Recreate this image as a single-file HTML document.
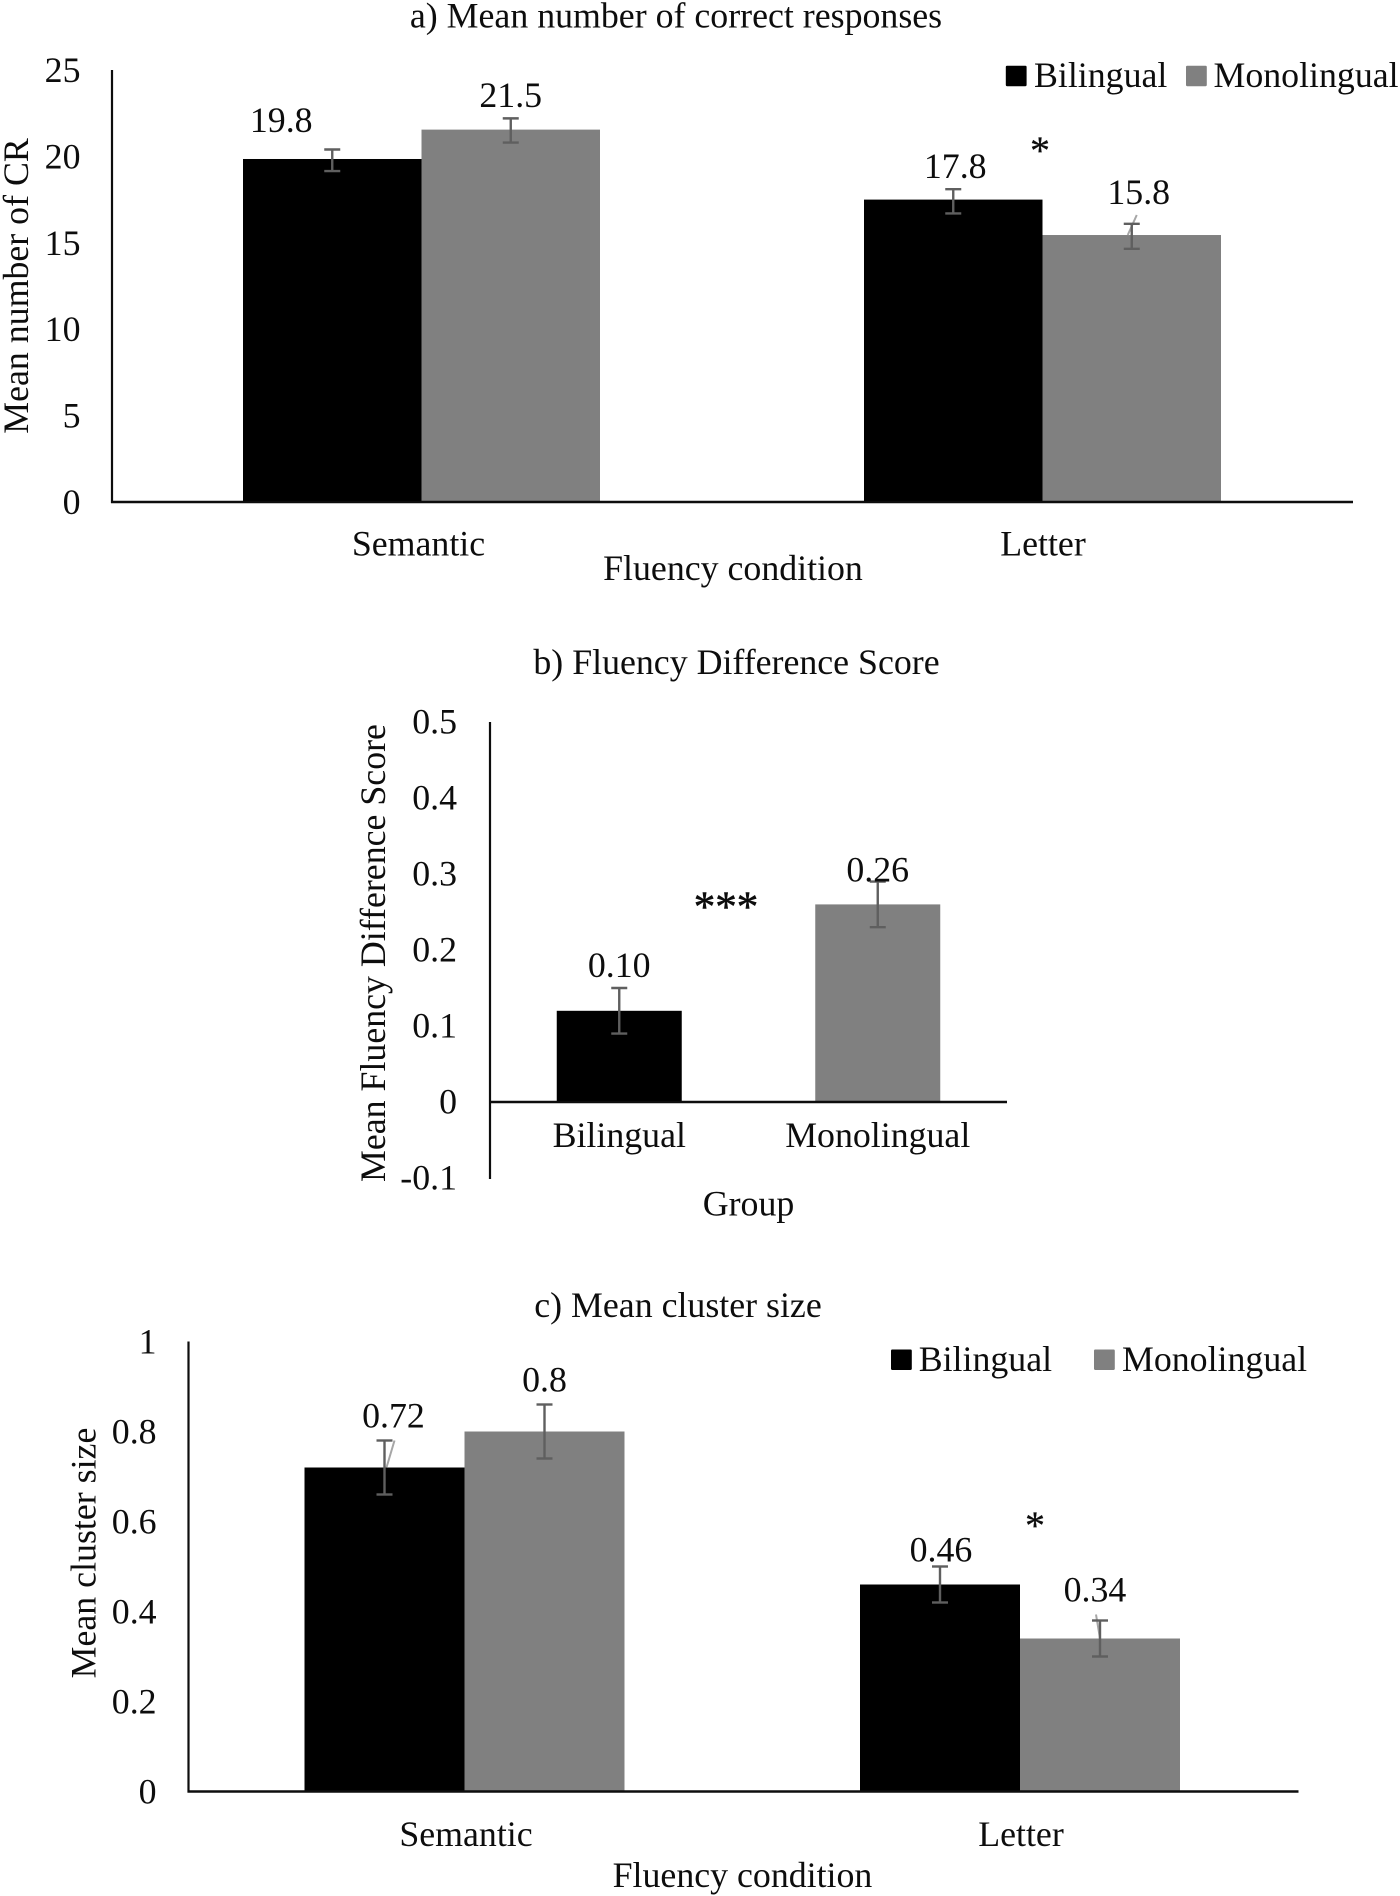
<!DOCTYPE html>
<html lang="en">
<head>
<meta charset="utf-8">
<title>Fluency charts</title>
<style>
  html, body { margin: 0; padding: 0; background: #fff; }
  #figure { display: block; width: 1400px; height: 1896px; }
  text { font-family: "Liberation Serif", "Times New Roman", serif; font-size: 35.85px; fill: #0d0d0d; }
</style>
</head>
<body>
<svg id="figure" xmlns="http://www.w3.org/2000/svg" width="1400" height="1896" viewBox="0 0 1400 1896"></svg>
<script>
// ---- Chart a data ----
const aCategories = ['Semantic', 'Letter'];
const aBilingual = [19.85, 17.5];
const aMonolingual = [21.55, 15.45];
const aBilingualLow = [19.15, 16.7];
const aBilingualHigh = [20.4, 18.1];
const aMonolingualLow = [20.8, 14.65];
const aMonolingualHigh = [22.2, 16.1];
const aBilingualLabels = ['19.8', '17.8'];
const aMonolingualLabels = ['21.5', '15.8'];
const aTicks = [0, 5, 10, 15, 20, 25];
const aTickLabels = ['0', '5', '10', '15', '20', '25'];

// ---- Chart b data ----
const bCategories = ['Bilingual', 'Monolingual'];
const bValues = [0.12, 0.26];
const bColors = ['#000', '#808080'];
const bLow = [0.09, 0.23];
const bHigh = [0.15, 0.29];
const bLabels = ['0.10', '0.26'];
const bTicks = [-0.1, 0, 0.1, 0.2, 0.3, 0.4, 0.5];
const bTickLabels = ['-0.1', '0', '0.1', '0.2', '0.3', '0.4', '0.5'];

// ---- Chart c data ----
const cCategories = ['Semantic', 'Letter'];
const cBilingual = [0.72, 0.46];
const cMonolingual = [0.8, 0.34];
const cBilingualLow = [0.66, 0.42];
const cBilingualHigh = [0.78, 0.5];
const cMonolingualLow = [0.74, 0.3];
const cMonolingualHigh = [0.86, 0.38];
const cBilingualLabels = ['0.72', '0.46'];
const cMonolingualLabels = ['0.8', '0.34'];
const cTicks = [0, 0.2, 0.4, 0.6, 0.8, 1];
const cTickLabels = ['0', '0.2', '0.4', '0.6', '0.8', '1'];

const svg = document.getElementById('figure');
const NS = 'http://www.w3.org/2000/svg';

function make(tag, attrs, parent) {
  const el = document.createElementNS(NS, tag);
  for (const k in attrs) el.setAttribute(k, attrs[k]);
  (parent || svg).appendChild(el);
  return el;
}
function label(parent, str, x, y, anchor, name, rotate) {
  const t = make('text', { x: x, y: y, 'text-anchor': anchor }, parent);
  if (rotate) t.setAttribute('transform', 'rotate(-90 ' + x + ' ' + y + ')');
  
  
  t.textContent = str;
  return t;
}
function line(parent, x1, y1, x2, y2, color, width, name) {
  const l = make('line', { x1: x1, y1: y1, x2: x2, y2: y2, stroke: color, 'stroke-width': width }, parent);
  
  
  return l;
}

function drawChart(c) {
  const g = make('g', {});
  
  

  const yScale = v => c.y0 - v * c.yPerUnit;
  const band = (c.right - c.left) / c.categories.length;
  const catCenter = i => c.left + (i + 0.5) * band;
  const n = c.series.length;
  const barX = (i, s) => catCenter(i) + (s - n / 2) * c.barWidth;

  // titles
  label(g, c.title, c.titleX, c.titleY, 'middle', 'chart-title');
  label(g, c.yTitle, c.yTitleX, c.yTitleY, 'middle', 'y-axis-title', true);
  label(g, c.xTitle, c.xTitleX, c.xTitleY, 'middle', 'x-axis-title');

  // y ticks
  c.ticks.forEach((t, i) => {
    label(g, c.tickLabels[i], c.tickRight, yScale(t) + c.tickDy, 'end', 'y-tick-label');
  });

  // bars
  c.series.forEach((s, si) => {
    s.values.forEach((v, i) => {
      const x = barX(i, si);
      const top = yScale(v), base = yScale(0);
      const fill = s.colors ? s.colors[i] : s.color;
      const r = make('rect', { x: x, y: top, width: c.barWidth, height: base - top, fill: fill }, g);
      
      
    });
  });

  // axes
  line(g, c.axisX, yScale(c.yMax), c.axisX, yScale(c.yMin) + 1, '#0d0d0d', 2.2, 'y-axis-line');
  line(g, c.axisX - 1, yScale(0), c.axisRight, yScale(0), '#0d0d0d', 2.6, 'x-axis-line');

  // category labels
  c.categories.forEach((cat, i) => {
    label(g, cat, catCenter(i) + c.catDx[i], c.catY, 'middle', 'category-label');
  });

  // leader lines, error bars, value labels
  c.series.forEach((s, si) => {
    s.values.forEach((v, i) => {
      const cx = barX(i, si) + c.barWidth / 2;
      const top = yScale(v);
      const leader = s.leaders ? s.leaders[i] : null;
      if (leader) {
        line(g, cx + leader[0], top, cx + leader[1], top + leader[2], '#a6a6a6', 2, 'leader-line');
      }
      const hi = yScale(s.high[i]), lo = yScale(s.low[i]);
      line(g, cx, hi, cx, lo, '#5f5f5f', 2.4, 'error-bar-' + s.key);
      line(g, cx - 8, hi, cx + 8, hi, '#5f5f5f', 2.4, 'error-cap-high');
      line(g, cx - 8, lo, cx + 8, lo, '#5f5f5f', 2.4, 'error-cap-low');
      const off = s.labelOffsets[i];
      label(g, s.labels[i], cx + off[0], top + off[1], 'middle', 'value-label-' + s.key);
    });
  });

  // significance
  const sig = label(g, c.sigText, c.sigX, c.sigY, 'middle', 'significance-marker');
  sig.style.fontSize = c.sigSize + 'px';
  sig.style.stroke = '#0d0d0d';
  sig.style.strokeWidth = c.sigStroke + 'px';

  // legend
  if (c.legend) {
    c.legend.forEach(e => {
      const sw = make('rect', { x: e.x, y: e.y, width: 20.8, height: 20.5, rx: 1.2, fill: e.color }, g);
      
      
      label(g, e.text, e.tx, e.ty, 'start', 'legend-entry-' + e.text.toLowerCase());
    });
  }
}

drawChart({
  name: 'chart-a-correct-responses',
  title: 'a) Mean number of correct responses', titleX: 676, titleY: 27.5,
  yTitle: 'Mean number of CR', yTitleX: 28, yTitleY: 286,
  xTitle: 'Fluency condition', xTitleX: 733, xTitleY: 580,
  categories: aCategories, catDx: [-3, 0.5], catY: 555.5,
  ticks: aTicks, tickLabels: aTickLabels, tickRight: 80.5, tickDy: 12,
  y0: 502, yPerUnit: 17.28, yMin: 0, yMax: 25,
  left: 111, right: 1353, axisX: 112, axisRight: 1353, barWidth: 178.5,
  series: [
    { key: 'bilingual', color: '#000', values: aBilingual, low: aBilingualLow, high: aBilingualHigh,
      labels: aBilingualLabels, labelOffsets: [[-51, -27], [2, -21.6]] },
    { key: 'monolingual', color: '#808080', values: aMonolingual, low: aMonolingualLow, high: aMonolingualHigh,
      labels: aMonolingualLabels, labelOffsets: [[0, -22.5], [7, -31]],
      leaders: [null, [-4, 5, -20]] }
  ],
  sigText: '*', sigX: 1040, sigY: 164, sigSize: 40, sigStroke: 0.3,
  legend: [
    { text: 'Bilingual', color: '#000', x: 1005.8, y: 65.7, tx: 1034, ty: 87 },
    { text: 'Monolingual', color: '#808080', x: 1186, y: 65.7, tx: 1213.5, ty: 87 }
  ]
});

drawChart({
  name: 'chart-b-difference-score',
  title: 'b) Fluency Difference Score', titleX: 736.5, titleY: 674,
  yTitle: 'Mean Fluency Difference Score', yTitleX: 385, yTitleY: 953,
  xTitle: 'Group', xTitleX: 748.5, xTitleY: 1215.5,
  categories: bCategories, catDx: [0, 0], catY: 1147,
  ticks: bTicks, tickLabels: bTickLabels, tickRight: 457, tickDy: 11.5,
  y0: 1102, yPerUnit: 760, yMin: -0.1, yMax: 0.5,
  left: 490, right: 1007, axisX: 490, axisRight: 1007, barWidth: 125,
  series: [
    { key: 'score', colors: bColors, values: bValues, low: bLow, high: bHigh,
      labels: bLabels, labelOffsets: [[0, -34], [0, -23]] }
  ],
  sigText: '***', sigX: 726, sigY: 921, sigSize: 43, sigStroke: 0.6
});

drawChart({
  name: 'chart-c-cluster-size',
  title: 'c) Mean cluster size', titleX: 678, titleY: 1317,
  yTitle: 'Mean cluster size', yTitleX: 95.6, yTitleY: 1553,
  xTitle: 'Fluency condition', xTitleX: 742.5, xTitleY: 1887,
  categories: cCategories, catDx: [1.5, 1], catY: 1846,
  ticks: cTicks, tickLabels: cTickLabels, tickRight: 156.6, tickDy: 12,
  y0: 1791.5, yPerUnit: 450, yMin: 0, yMax: 1,
  left: 186.75, right: 1297.75, axisX: 188.5, axisRight: 1298.5, barWidth: 160,
  series: [
    { key: 'bilingual', color: '#000', values: cBilingual, low: cBilingualLow, high: cBilingualHigh,
      labels: cBilingualLabels, labelOffsets: [[9, -40], [1, -23]],
      leaders: [[2, 10, -27], null] },
    { key: 'monolingual', color: '#808080', values: cMonolingual, low: cMonolingualLow, high: cMonolingualHigh,
      labels: cMonolingualLabels, labelOffsets: [[0, -40], [-5, -37]],
      leaders: [[0, 0, -23], [0, -4, -24]] }
  ],
  sigText: '*', sigX: 1035, sigY: 1539, sigSize: 40, sigStroke: 0.3,
  legend: [
    { text: 'Bilingual', color: '#000', x: 891, y: 1349.5, tx: 918.7, ty: 1371 },
    { text: 'Monolingual', color: '#808080', x: 1094, y: 1349.5, tx: 1122, ty: 1371 }
  ]
});
</script>
</body>
</html>
